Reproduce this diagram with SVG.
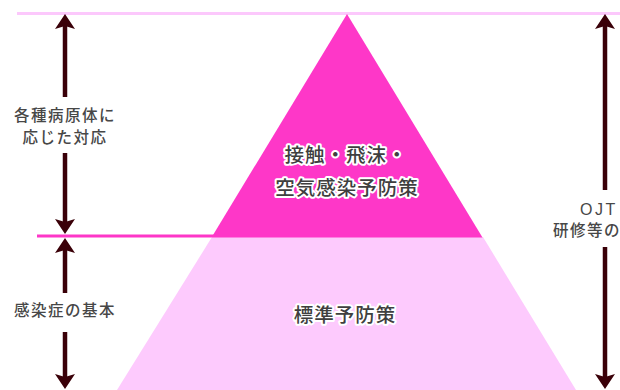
<svg xmlns="http://www.w3.org/2000/svg" width="620" height="390" viewBox="0 0 620 390">
  <style>
    .lbl { font-family: "Noto Sans CJK JP", "Noto Sans", sans-serif; font-size: 15.5px; font-weight: 500; fill: #474747; letter-spacing: 1.5px; text-anchor: middle; }
    .lblr { font-family: "Noto Sans CJK JP", "Noto Sans", sans-serif; font-size: 15.5px; font-weight: 500; fill: #474747; letter-spacing: 1.5px; }
    .ttl { font-family: "Noto Sans CJK JP", "Noto Sans", sans-serif; font-size: 19.5px; font-weight: 500; fill: #3f3f3f; letter-spacing: 1px; text-anchor: middle; stroke: #ffffff; stroke-width: 4px; stroke-linejoin: round; paint-order: stroke fill; }
    .arr { stroke: #3a0008; stroke-width: 4.5; fill: none; marker-end: url(#head); }
  </style>
  <defs>
    <marker id="head" viewBox="-8 -11 17 22" markerWidth="17" markerHeight="22" refX="0" refY="0" orient="auto" markerUnits="userSpaceOnUse">
      <path d="M8,0 L-7,-10 L-4,0 L-7,10 Z" fill="#3a0008"/>
    </marker>
  </defs>
  <rect width="620" height="390" fill="#ffffff"/>

  <g id="guides">
    <line x1="17" y1="13.5" x2="620" y2="13.5" stroke="#fcc8fc" stroke-width="3"/>
    <line x1="37" y1="236" x2="214" y2="236" stroke="#fe37c8" stroke-width="3"/>
  </g>

  <g id="standard">
    <polygon points="212,237 483,237 576,390 117,390" fill="#fdcafd"/>
    <text class="ttl" x="345" y="322">標準予防策</text>
  </g>

  <g id="specific">
    <polygon points="347,14 482.5,237.5 211.5,237.5" fill="#fe37c8"/>
    <text class="ttl" x="346" y="162">接触・飛沫・</text>
    <text class="ttl" x="347" y="195">空気感染予防策</text>
  </g>

  <g id="label-pathogen">
    <text class="lbl" x="65" y="120.5">各種病原体に</text>
    <text class="lbl" x="65" y="142.5">応じた対応</text>
  </g>

  <g id="label-basic">
    <text class="lbl" x="65" y="316">感染症の基本</text>
  </g>

  <g id="label-training">
    <text class="lblr" x="580" y="215" style="font-family: 'Liberation Sans', sans-serif; font-size: 16px; letter-spacing: 2.5px;">OJT</text>
    <text class="lblr" x="553" y="236">研修等の</text>
  </g>

  <g id="connectors">
    <line class="arr" x1="65" y1="97" x2="65" y2="22"/>
    <line class="arr" x1="65" y1="153" x2="65" y2="226"/>
    <line class="arr" x1="65" y1="293" x2="65" y2="246"/>
    <line class="arr" x1="65" y1="332" x2="65" y2="381"/>
    <line class="arr" x1="605" y1="190" x2="605" y2="22"/>
    <line class="arr" x1="605" y1="247" x2="605" y2="381"/>
  </g>
</svg>
